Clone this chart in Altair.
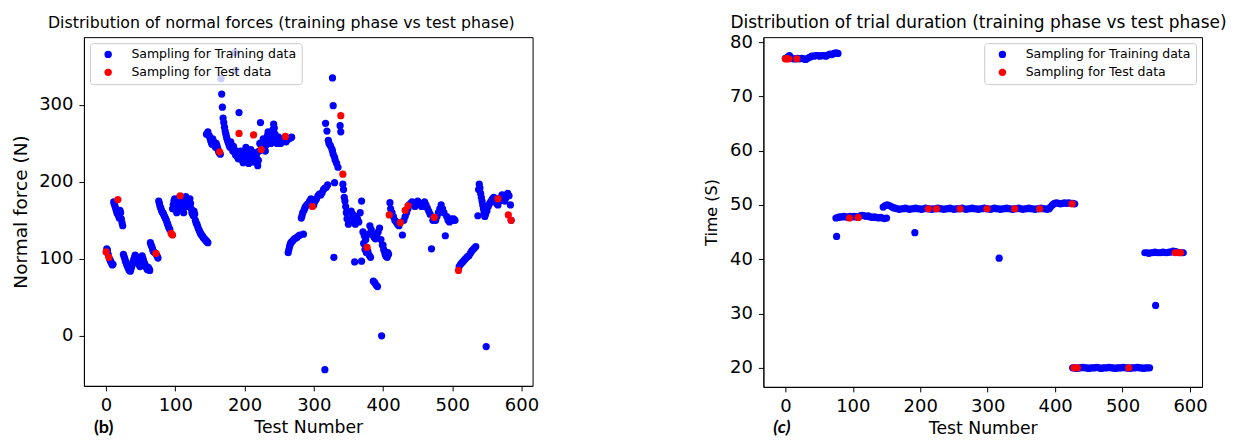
import altair as alt
import pandas as pd

TRAIN = "Sampling for Training data"
TEST = "Sampling for Test data"

# ---------------- (b) normal force: (test number, force N) ----------------
force_train = [
    (1, 113), (2, 111), (3, 106), (5, 100), (6, 98), (7, 96), (8, 94), (9, 92), (10, 93),
    (11, 174), (12, 171), (13, 168), (14, 165), (15, 162), (16, 159), (18, 156), (19, 153),
    (20, 163), (21, 160), (22, 152), (23, 147), (24, 143),
    (25, 106), (26, 103), (27, 100), (28, 97), (29, 95), (30, 92), (31, 90), (32, 88), (33, 86),
    (34, 85), (35, 84), (36, 87), (37, 90), (38, 93), (39, 96), (40, 99), (41, 102), (42, 105),
    (43, 103), (44, 100), (45, 98), (46, 96), (47, 94), (48, 92), (49, 90), (50, 96), (51, 100),
    (52, 104), (53, 101), (54, 98), (55, 95), (56, 93), (57, 91), (58, 89), (59, 87), (60, 86),
    (61, 89), (62, 87), (63, 85),
    (64, 121), (65, 118), (66, 116), (67, 113), (68, 110), (70, 108), (73, 105), (74, 103), (75, 101),
    (76, 175), (77, 172), (78, 168), (79, 166), (80, 163), (81, 161), (82, 160), (83, 158), (84, 156),
    (85, 154), (86, 152), (87, 150), (88, 147), (89, 145), (90, 142), (91, 140), (92, 138),
    (96, 165), (97, 170), (98, 175), (99, 178), (100, 172), (101, 168), (102, 160), (103, 163),
    (104, 170), (105, 176), (106, 180), (108, 178), (109, 175), (110, 170), (111, 165), (112, 160),
    (113, 172), (114, 178), (115, 181), (116, 176), (117, 172), (118, 168), (119, 170), (120, 175),
    (121, 178), (122, 172), (123, 165), (124, 160), (125, 158), (126, 156),
    (127, 162), (128, 158), (129, 150), (130, 147), (131, 145), (132, 143), (133, 140), (134, 138),
    (135, 136), (136, 134), (137, 132), (138, 131), (139, 130), (140, 128), (141, 127), (142, 126),
    (143, 125), (144, 124), (145, 123), (146, 122), (147, 121),
    (145, 262), (147, 265), (149, 260), (150, 257), (151, 254), (152, 251), (153, 249), (154, 256),
    (155, 253), (156, 250), (157, 247), (158, 245), (159, 250), (160, 247), (161, 244), (162, 241),
    (163, 238), (165, 236),
    (166, 334), (167, 314), (168, 297), (169, 283), (170, 277), (171, 271), (172, 266), (173, 262),
    (174, 258), (175, 255), (176, 252), (177, 250), (178, 247), (179, 245), (180, 252), (181, 248),
    (182, 244), (183, 240), (184, 246), (185, 242), (186, 238), (187, 235), (188, 240), (189, 236),
    (190, 232), (191, 230), (193, 235), (194, 240), (195, 238), (196, 232), (197, 228), (198, 225),
    (199, 230), (200, 235), (201, 240), (202, 245), (203, 238), (204, 232), (205, 228), (206, 224),
    (207, 230), (208, 236), (209, 242), (210, 238), (211, 232), (212, 226), (214, 226), (215, 232),
    (216, 238), (217, 234), (218, 228), (219, 221), (220, 228), (221, 240), (222, 250), (223, 277),
    (225, 248), (226, 252), (227, 256), (228, 250), (229, 245), (230, 240), (231, 248), (232, 255),
    (233, 260), (234, 265), (235, 262), (236, 258), (237, 252), (238, 250), (239, 255), (240, 262),
    (241, 268), (242, 275), (243, 270), (244, 262), (245, 256), (246, 252), (247, 250), (248, 254),
    (249, 258), (250, 255), (251, 252), (252, 250), (254, 254), (256, 256), (258, 254), (260, 252),
    (262, 255), (264, 256), (266, 257), (268, 258),
    (186, 368), (187, 345), (192, 290),
    (263, 108), (264, 112), (265, 116), (266, 119), (267, 121), (268, 122), (270, 124), (272, 126),
    (274, 127), (276, 128), (278, 130), (280, 131), (285, 132),
    (282, 153), (283, 156), (284, 160), (286, 163), (287, 166), (288, 168), (290, 170), (292, 172),
    (294, 175), (296, 178),
    (300, 170), (302, 175), (304, 178), (306, 182), (308, 184), (310, 183), (312, 186), (314, 190),
    (316, 192), (318, 193), (320, 196), (317, 276), (319, 266), (321, 254), (322, 250), (324, 247),
    (326, 243), (327, 240), (328, 236), (330, 232), (331, 228), (333, 224), (335, 219), (327, 335),
    (328, 299), (338, 273), (339, 265), (330, 199), (316, -44), (329, 102),
    (342, 197), (343, 190), (344, 180), (345, 175), (346, 168), (347, 160), (348, 152), (350, 145),
    (352, 150), (354, 162), (356, 158), (358, 150), (359, 96), (360, 145), (362, 155), (363, 152),
    (365, 148), (367, 160), (369, 175), (369, 97), (371, 135), (372, 120), (373, 130), (374, 112),
    (375, 125), (376, 108), (378, 110), (379, 132), (380, 105), (381, 143), (382, 102), (383, 138),
    (385, 132), (386, 71), (387, 128), (388, 69), (389, 126), (390, 66), (391, 130), (392, 64),
    (393, 135), (395, 140), (397, 125), (398, 0), (399, 118), (401, 112), (403, 106), (405, 103),
    (407, 108),
    (400, 118), (402, 110), (404, 104), (406, 102), (408, 106), (410, 173), (411, 165), (413, 160),
    (415, 155), (417, 150), (419, 148), (421, 145), (423, 143), (428, 131), (430, 150), (432, 155),
    (434, 160), (436, 165), (438, 170),
    (440, 172), (442, 174), (444, 170), (446, 168), (448, 172), (450, 175), (452, 173), (454, 170),
    (456, 168), (458, 172), (460, 174), (462, 170), (464, 166), (466, 162), (468, 158), (470, 113),
    (472, 150), (476, 150), (478, 155), (480, 160), (482, 165), (484, 170), (486, 165), (488, 160),
    (490, 130), (492, 155), (494, 150), (496, 148), (498, 152), (500, 150), (502, 152), (504, 150),
    (510, 90), (512, 93), (514, 95), (516, 97), (518, 99), (520, 101), (522, 103), (524, 104),
    (526, 107), (528, 110), (530, 112), (532, 114), (534, 116),
    (537, 156), (538, 190), (539, 197), (540, 192), (541, 185), (542, 180), (543, 175), (544, 170),
    (545, 165), (546, 160), (547, 155), (548, 158), (549, -14), (550, 162), (552, 168), (554, 172),
    (556, 175), (558, 178), (560, 180), (562, 176), (564, 172), (566, 170), (568, 175), (570, 180),
    (572, 183), (574, 178), (576, 175), (578, 180), (580, 185), (582, 182), (584, 170), (585, 150),
]
force_test = [
    (0, 109), (4, 102), (17, 177), (72, 107), (94, 133), (96, 131), (107, 182), (164, 239),
    (192, 263), (213, 261), (224, 242), (259, 259), (298, 168), (339, 286), (342, 210), (377, 115),
    (409, 157), (425, 147), (432, 163), (436, 169), (474, 154), (509, 85), (566, 178), (581, 157),
    (585, 150),
]

# ---------------- (c) trial duration: (test number, time s) ----------------
dur_band1_x = list(range(0, 79, 3))
dur_band1_y = [77.0, 77.2, 77.5, 77.1, 76.9, 76.9, 77.0, 76.9, 77.0, 76.9, 76.8, 77.0, 77.2, 77.4,
               77.4, 77.5, 77.5, 77.4, 77.5, 77.5, 77.4, 77.6, 77.8, 77.7, 77.9, 78.0, 77.9]
dur_band2_x = list(range(75, 151, 3))
dur_band2_y = [47.6, 47.7, 47.8, 47.8, 47.9, 47.8, 47.7, 47.9, 47.8, 47.9, 47.8, 47.8, 48.0, 48.1,
               48.0, 47.9, 48.0, 47.8, 47.7, 47.8, 47.7, 47.6, 47.7, 47.6, 47.5, 47.6]
dur_band3a_x = [145, 148, 151, 154, 157, 160, 163]
dur_band3a_y = [49.6, 49.9, 50.0, 49.9, 49.7, 49.5, 49.4]
dur_band3_x = list(range(166, 394, 3))
dur_band3_y = [49.3, 49.2, 49.3, 49.3, 49.4, 49.3, 49.2, 49.3, 49.3, 49.4, 49.3, 49.3, 49.2, 49.3,
               49.4, 49.3, 49.3, 49.2, 49.3, 49.3, 49.4, 49.3, 49.3, 49.2, 49.3, 49.3, 49.4, 49.3,
               49.2, 49.3, 49.3, 49.3, 49.4, 49.3, 49.2, 49.3, 49.3, 49.4, 49.3, 49.3, 49.2, 49.3,
               49.3, 49.4, 49.3, 49.3, 49.2, 49.3, 49.4, 49.3, 49.3, 49.2, 49.3, 49.3, 49.4, 49.3,
               49.3, 49.2, 49.3, 49.3, 49.4, 49.3, 49.2, 49.3, 49.3, 49.4, 49.3, 49.3, 49.2, 49.3,
               49.3, 49.4, 49.3, 49.3, 49.2, 49.3]
dur_band3b_x = list(range(393, 430, 3))
dur_band3b_y = [49.6, 50.0, 50.3, 50.4, 50.3, 50.2, 50.3, 50.4, 50.3, 50.4, 50.3, 50.3, 50.2]
dur_band4_x = list(range(426, 541, 3))
dur_band4_y = [20.0, 20.0, 19.9, 20.0, 20.0, 20.1, 20.0, 20.0, 19.9, 20.0, 20.0, 20.0, 20.1, 20.0,
               19.9, 20.0, 20.0, 20.0, 20.1, 20.0, 20.0, 19.9, 20.0, 20.0, 20.0, 20.1, 20.0, 20.0,
               19.9, 20.0, 20.0, 20.0, 20.1, 20.0, 20.0, 19.9, 20.0, 20.0, 20.0]
dur_band5_x = list(range(533, 591, 3))
dur_band5_y = [41.2, 41.2, 41.1, 41.2, 41.2, 41.3, 41.2, 41.2, 41.2, 41.3, 41.2, 41.2, 41.3, 41.3,
               41.5, 41.4, 41.3, 41.2, 41.2, 41.2]
dur_outlier_x = [76, 192, 317, 549]
dur_outlier_y = [44.2, 44.9, 40.2, 31.5]
dur_test_x = [0, 2, 5, 17, 95, 108, 212, 224, 259, 299, 340, 377, 425, 428, 433, 509, 578, 582, 586]
dur_test_y = [76.9, 76.9, 76.9, 76.9, 47.6, 47.7, 49.3, 49.3, 49.3, 49.3, 49.3, 49.3, 50.2, 20.0,
              20.0, 20.0, 41.2, 41.2, 41.2]

x_ticks = [0, 100, 200, 300, 400, 500, 600]
force_ticks = [0, 100, 200, 300]
time_ticks = [20, 30, 40, 50, 60, 70, 80]

force_df = pd.DataFrame({
    "x": [p[0] for p in force_train] + [p[0] for p in force_test],
    "y": [p[1] for p in force_train] + [p[1] for p in force_test],
    "s": [TRAIN] * len(force_train) + [TEST] * len(force_test),
})
dtx = dur_band1_x + dur_band2_x + dur_band3a_x + dur_band3_x + dur_band3b_x + dur_band4_x + dur_band5_x + dur_outlier_x
dty = dur_band1_y + dur_band2_y + dur_band3a_y + dur_band3_y + dur_band3b_y + dur_band4_y + dur_band5_y + dur_outlier_y
dur_df = pd.DataFrame({
    "x": dtx + dur_test_x,
    "y": dty + dur_test_y,
    "s": [TRAIN] * len(dtx) + [TEST] * len(dur_test_x),
})

FONT = "DejaVu Sans"


def panel(df, xdom, ydom, yticks, ytitle, ytitle_size, ytitle_pad, title, tsize, tdx,
          lorient, letter, lstyle, w, h):
    color = alt.Color(
        "s:N",
        scale=alt.Scale(domain=[TRAIN, TEST], range=["#0000ff", "#ff0000"]),
        legend=alt.Legend(
            title=None, orient=lorient, offset=6, padding=5, symbolOffset=7,
            labelOffset=17, rowPadding=5, symbolSize=55, symbolType="circle",
            symbolStrokeWidth=0, labelFont=FONT, labelFontSize=12.5, labelColor="#000",
            strokeColor="#cccccc", fillColor="rgba(255,255,255,0.8)", cornerRadius=3,
            labelLimit=400,
        ),
    )
    pts = alt.Chart(df).mark_circle(size=52, opacity=1).encode(
        x=alt.X("x:Q", scale=alt.Scale(domain=xdom, nice=False, zero=False),
                axis=alt.Axis(values=x_ticks, title="Test Number", labelPadding=6,
                              titlePadding=4, titleFontSize=17.3)),
        y=alt.Y("y:Q", scale=alt.Scale(domain=ydom, nice=False, zero=False),
                axis=alt.Axis(values=yticks, title=ytitle, labelPadding=6,
                              titlePadding=ytitle_pad, titleFontSize=ytitle_size)),
        color=color,
    )
    ttl = alt.Chart(pd.DataFrame({"t": [title]})).mark_text(
        align="left", baseline="middle", font=FONT, fontSize=tsize, color="#000",
    ).encode(x=alt.value(tdx), y=alt.value(-14), text="t:N")
    lab = alt.Chart(pd.DataFrame({"t": [letter]})).mark_text(
        align="left", baseline="middle", font="Lato", fontSize=18, fontWeight="bold",
        fontStyle=lstyle, color="#000",
    ).encode(x=alt.value(10), y=alt.value(427 - 36), text="t:N")
    return alt.layer(pts, ttl, lab).properties(width=w, height=h)


left = panel(force_df, [-32, 616], [-65, 388], force_ticks, "Normal force (N)", 18.5, 8,
             "Distribution of normal forces (training phase vs test phase)", 15.8, -36,
             "top-left", "(b)", "normal", 449, 349)
right = panel(dur_df, [-32.6, 617.8], [16.5, 80.9], time_ticks, "Time (S)", 16, 10,
              "Distribution of trial duration (training phase vs test phase)", 17.0, -33,
              "top-right", "(c)", "italic", 439, 350)

chart = alt.hconcat(left, right, spacing=163).configure(
    padding={"left": 3, "top": 5, "right": 0, "bottom": 0},
).configure_axis(
    grid=False, domainColor="#000", tickColor="#000", tickSize=5, labelFont=FONT,
    labelFontSize=18, labelColor="#000", titleFont=FONT,
    titleFontWeight="normal", titleColor="#000", labelFlush=False,
).configure_view(stroke="#000", strokeWidth=1)

chart.save("out.html", embed_options={"renderer": "svg", "actions": False})
